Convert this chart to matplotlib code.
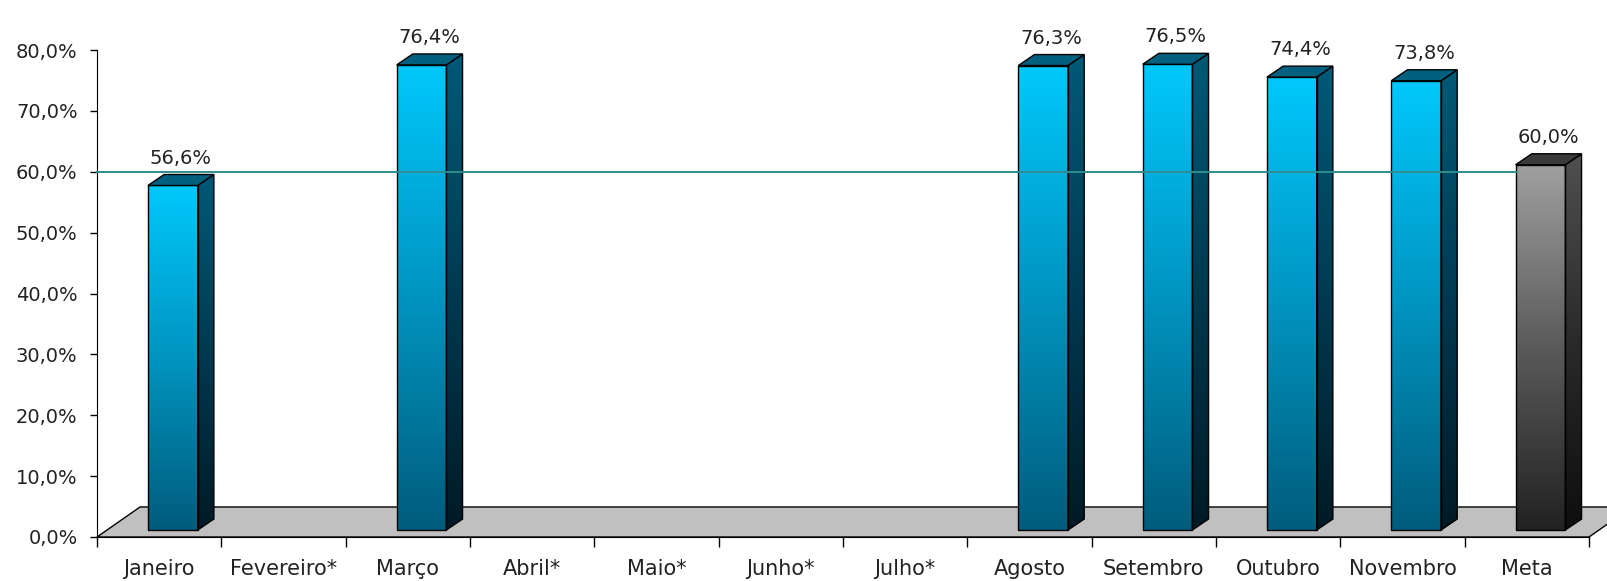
import numpy as np
import matplotlib.pyplot as plt
from matplotlib.patches import Polygon, Rectangle
from matplotlib.colors import LinearSegmentedColormap

# dados do gráfico
meses = ["Janeiro", "Fevereiro*", "Março", "Abril*", "Maio*", "Junho*",
         "Julho*", "Agosto", "Setembro", "Outubro", "Novembro", "Meta"]
valores = [56.6, np.nan, 76.4, np.nan, np.nan, np.nan, np.nan,
           76.3, 76.5, 74.4, 73.8, 60.0]
meta = 60.0
yticks = np.arange(0, 81, 10)

# efeito 3D (em unidades de dados)
bw = 0.40            # largura da barra
off_x, off_y = 0.11, 1.15   # recuo da face frontal
ddx, ddy = 0.13, 1.8        # profundidade da barra
fdx, fdy = 0.346, 4.93      # profundidade do piso

azul_frente = LinearSegmentedColormap.from_list("af", ["#005c7c", "#0094c0", "#00c8fc"])
azul_lado = LinearSegmentedColormap.from_list("al", ["#001a26", "#003a50", "#005a78"])
cinza_frente = LinearSegmentedColormap.from_list("cf", ["#222222", "#5a5a5a", "#a0a0a0"])
cinza_lado = LinearSegmentedColormap.from_list("cl", ["#0e0e0e", "#2a2a2a", "#505050"])

plt.rcParams['font.family'] = ['DejaVu Sans']

fig = plt.figure(figsize=(16.07, 5.81), dpi=100)
ax = fig.add_axes([97/1607, 44/581, 1492/1607, 487/581])
ax.set_xlim(-0.5, 11.5)
ax.set_ylim(0, 80)

grad = np.linspace(1, 0, 256).reshape(-1, 1)

# piso cinza
piso = Polygon([(-0.5, 0), (11.5, 0), (11.5 + fdx, fdy), (-0.5 + fdx, fdy)],
               closed=True, facecolor="#c0c0c0", edgecolor="black", lw=1,
               zorder=1, clip_on=False)
ax.add_patch(piso)

for i, v in enumerate(valores):
    if np.isnan(v):
        continue
    is_meta = meses[i] == "Meta"
    cf = cinza_frente if is_meta else azul_frente
    cl = cinza_lado if is_meta else azul_lado
    topo = "#3a3a3a" if is_meta else "#00607e"

    x0 = i - bw/2 + off_x
    x1 = x0 + bw
    y0 = off_y
    y1 = off_y + v

    # face frontal
    ax.imshow(grad, extent=(x0, x1, y0, y1), cmap=cf, aspect="auto",
              origin="upper", zorder=3, clip_on=False)
    ax.add_patch(Rectangle((x0, y0), bw, v, fill=False, edgecolor="black",
                           lw=1, zorder=4, clip_on=False))

    # face lateral
    lado = Polygon([(x1, y0), (x1 + ddx, y0 + ddy), (x1 + ddx, y1 + ddy), (x1, y1)],
                   closed=True, facecolor="none", edgecolor="black", lw=1,
                   zorder=4, clip_on=False)
    ax.add_patch(lado)
    im = ax.imshow(grad, extent=(x1, x1 + ddx, y0, y1 + ddy), cmap=cl,
                   aspect="auto", origin="upper", zorder=3)
    im.set_clip_path(lado)

    # topo
    ax.add_patch(Polygon([(x0, y1), (x1, y1), (x1 + ddx, y1 + ddy), (x0 + ddx, y1 + ddy)],
                         closed=True, facecolor=topo, edgecolor="black", lw=1,
                         zorder=4, clip_on=False))

    rotulo = f"{v:.1f}".replace(".", ",") + "%"
    ax.text(i + off_x + ddx/2, y1 + ddy + 2.7, rotulo, ha="center", va="center",
            fontsize=14, color="#222222")

# linha da meta
ax.plot([-0.5, 11 - bw/2 + off_x], [meta, meta], color="#2e8e8e", lw=1.4,
        zorder=6, clip_on=False)

ax.set_xlim(-0.5, 11.5)
ax.set_ylim(0, 80)

# eixos
for s in ["top", "right"]:
    ax.spines[s].set_visible(False)
ax.spines["left"].set_color("black")
ax.spines["bottom"].set_color("black")
ax.spines["left"].set_zorder(2)

ax.set_yticks(yticks)
ax.set_yticklabels([f"{t:.1f}".replace(".", ",") + "%" for t in yticks])
ax.tick_params(axis="y", length=5, width=1, pad=9, labelsize=14, colors="black",
               labelcolor="#222222")

ax.set_xticks(np.arange(-0.5, 12, 1))
ax.set_xticklabels([])
ax.set_xticks(np.arange(12), minor=True)
ax.set_xticklabels(meses, minor=True)
ax.tick_params(axis="x", which="major", length=7, width=1)
ax.tick_params(axis="x", which="minor", length=0, pad=16, labelsize=15,
               labelcolor="#222222")

ax.set_facecolor("white")
plt.savefig("out.png", dpi=100)
